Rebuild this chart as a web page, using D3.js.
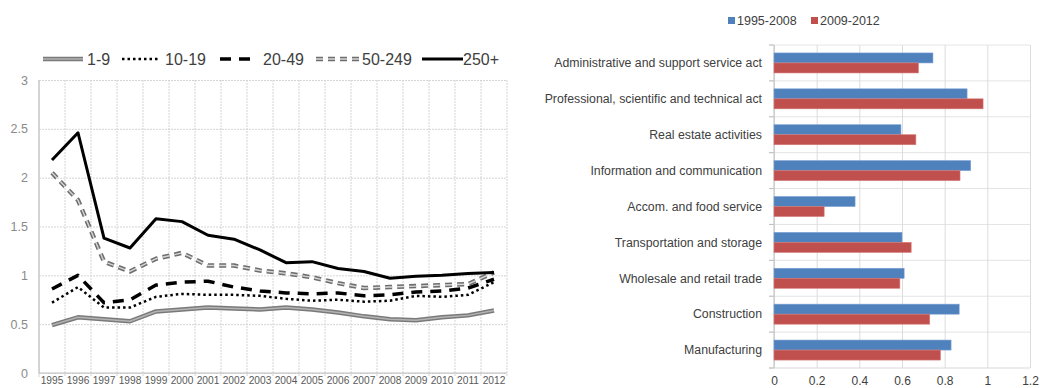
<!DOCTYPE html>
<html>
<head>
<meta charset="utf-8">
<script src="https://cdn.jsdelivr.net/npm/d3@7"></script>
<style>
    body { margin: 0; background: #fff; }
    svg { font-family: "Liberation Sans", Arial, sans-serif; }
</style>
</head>
<body>
<svg id="chart" width="1040" height="388"></svg>
<script>
// Left panel: index by firm size class
const years = ["1995", "1996", "1997", "1998", "1999", "2000", "2001", "2002", "2003",
    "2004", "2005", "2006", "2007", "2008", "2009", "2010", "2011", "2012"];
const size1to9 = [0.49, 0.57, 0.55, 0.53, 0.63, 0.65, 0.67, 0.66, 0.65, 0.67, 0.65, 0.62, 0.58, 0.55, 0.54, 0.57, 0.59, 0.64];
const size10to19 = [0.72, 0.88, 0.67, 0.67, 0.78, 0.81, 0.80, 0.80, 0.79, 0.76, 0.74, 0.75, 0.73, 0.74, 0.79, 0.78, 0.80, 0.93];
const size20to49 = [0.86, 1.00, 0.72, 0.75, 0.90, 0.93, 0.94, 0.88, 0.84, 0.82, 0.81, 0.82, 0.79, 0.80, 0.83, 0.84, 0.87, 0.96];
const size50to249 = [2.05, 1.77, 1.14, 1.04, 1.17, 1.23, 1.10, 1.10, 1.05, 1.02, 0.98, 0.92, 0.87, 0.88, 0.89, 0.90, 0.91, 1.03];
const size250plus = [2.18, 2.46, 1.38, 1.28, 1.58, 1.55, 1.41, 1.37, 1.26, 1.13, 1.14, 1.07, 1.04, 0.97, 0.99, 1.00, 1.02, 1.03];
const lineTicks = [0, 0.5, 1, 1.5, 2, 2.5, 3];

// Right panel: by sector
const sectors = ["Administrative and support service act", "Professional, scientific and technical act",
    "Real estate activities", "Information and communication", "Accom. and food service",
    "Transportation and storage", "Wholesale and retail trade", "Construction", "Manufacturing"];
const period1 = [0.745, 0.905, 0.595, 0.922, 0.38, 0.60, 0.61, 0.868, 0.83];
const period2 = [0.677, 0.98, 0.665, 0.872, 0.235, 0.643, 0.59, 0.73, 0.78];
const barTicks = [0, 0.2, 0.4, 0.6, 0.8, 1, 1.2];
const periodNames = ["1995-2008", "2009-2012"];

const svg = d3.select("#chart");

/* ---------- left: line chart ---------- */
const lp = { left: 39, right: 507, top: 80, bottom: 373 };

const xYear = d3.scaleBand()
    .domain(years)
    .range([lp.left, lp.right]);
const yVal = d3.scaleLinear()
    .domain([0, 3])
    .range([lp.bottom, lp.top]);

// horizontal grid + labels
svg.append("g")
    .attr("transform", `translate(${lp.left},0)`)
    .call(d3.axisLeft(yVal).tickValues(lineTicks).tickSize(-(lp.right - lp.left)).tickPadding(11).tickFormat(d => String(d)))
    .call(g => g.select(".domain").remove())
    .call(g => g.selectAll(".tick line")
        .attr("stroke", "#d4d4d4")
        .attr("stroke-dasharray", "2,1"))
    .call(g => g.selectAll(".tick text")
        .attr("fill", "#8a8a8a")
        .style("font-size", "12.5px"));

// vertical grid at category boundaries
const boundaries = years.map(y => xYear(y)).concat([lp.right]);
svg.append("g")
    .selectAll("line")
    .data(boundaries)
    .enter()
    .append("line")
    .attr("x1", d => d)
    .attr("x2", d => d)
    .attr("y1", lp.top)
    .attr("y2", lp.bottom + 4)
    .attr("stroke", "#d4d4d4")
    .attr("stroke-dasharray", (d, i) => i === 0 ? null : "2,1");

// axes lines
svg.append("line")
    .attr("x1", lp.left).attr("x2", lp.left)
    .attr("y1", lp.top).attr("y2", lp.bottom)
    .attr("stroke", "#bfbfbf");
svg.append("line")
    .attr("x1", lp.left).attr("x2", lp.right)
    .attr("y1", lp.bottom).attr("y2", lp.bottom)
    .attr("stroke", "#bfbfbf");

svg.append("g")
    .attr("transform", `translate(0,${lp.bottom})`)
    .call(d3.axisBottom(xYear).tickSize(0).tickPadding(4))
    .call(g => g.select(".domain").remove())
    .call(g => g.selectAll(".tick text")
        .attr("fill", "#595959")
        .style("font-size", "10.2px"));

const line = d3.line()
    .x((d, i) => xYear(years[i]) + xYear.bandwidth() / 2)
    .y(d => yVal(d));

const seriesStyles = [
    { name: "1-9", data: size1to9, strokes: [{ c: "#7a7a7a", w: 4.5 }, { c: "#b4b4b4", w: 1.5 }] },
    { name: "10-19", data: size10to19, strokes: [{ c: "#000", w: 2.5, dash: "2.5,3" }] },
    { name: "20-49", data: size20to49, strokes: [{ c: "#000", w: 3.5, dash: "11,8" }] },
    { name: "50-249", data: size50to249, strokes: [{ c: "#6e6e6e", w: 4.5, dash: "7,5" }, { c: "#d6d6d6", w: 1.4, dash: "7,5" }] },
    { name: "250+", data: size250plus, strokes: [{ c: "#000", w: 3 }] }
];

seriesStyles.forEach(s => {
    s.strokes.forEach(st => {
        svg.append("path")
            .attr("d", line(s.data))
            .attr("fill", "none")
            .attr("stroke", st.c)
            .attr("stroke-width", st.w)
            .attr("stroke-dasharray", st.dash || null)
            .attr("stroke-linejoin", "round");
    });
});

// legend
const legendPos = [
    { x0: 43, x1: 83, tx: 87 },
    { x0: 122, x1: 159, tx: 165 },
    { x0: 220, x1: 251, tx: 263 },
    { x0: 316, x1: 361, tx: 362 },
    { x0: 422, x1: 463, tx: 463 }
];
seriesStyles.forEach((s, i) => {
    const p = legendPos[i];
    s.strokes.forEach(st => {
        svg.append("line")
            .attr("x1", p.x0).attr("x2", p.x1)
            .attr("y1", 59).attr("y2", 59)
            .attr("stroke", st.c)
            .attr("stroke-width", st.w)
            .attr("stroke-dasharray", st.dash || null);
    });
    svg.append("text")
        .attr("x", p.tx)
        .attr("y", 65)
        .attr("fill", "#404040")
        .style("font-size", "16px")
        .text(s.name);
});

/* ---------- right: horizontal bar chart ---------- */
const rp = { left: 774, right: 1030, top: 45, bottom: 368 };

const xBar = d3.scaleLinear()
    .domain([0, 1.2])
    .range([rp.left, rp.right]);
const ySector = d3.scaleBand()
    .domain(sectors)
    .range([rp.top, rp.bottom]);
const yPeriod = d3.scaleBand()
    .domain(periodNames)
    .range([ySector.bandwidth() / 2 - 10, ySector.bandwidth() / 2 + 10]);

// horizontal grid at category boundaries
svg.append("g")
    .selectAll("line")
    .data(sectors.map(s => ySector(s)))
    .enter()
    .append("line")
    .attr("x1", rp.left - 5)
    .attr("x2", rp.right)
    .attr("y1", d => d)
    .attr("y2", d => d)
    .attr("stroke", "#e4e4e4");

svg.append("g")
    .attr("transform", `translate(0,${rp.bottom})`)
    .call(d3.axisBottom(xBar).tickValues(barTicks).tickSize(-(rp.bottom - rp.top)).tickPadding(8).tickFormat(d3.format("~g")))
    .call(g => g.select(".domain").remove())
    .call(g => g.selectAll(".tick line").attr("stroke", "#dcdcdc"))
    .call(g => g.selectAll(".tick text")
        .attr("fill", "#404040")
        .style("font-size", "12px"));

// left axis with tick marks between categories
svg.append("line")
    .attr("x1", rp.left).attr("x2", rp.left)
    .attr("y1", rp.top).attr("y2", rp.bottom)
    .attr("stroke", "#bfbfbf");
svg.append("line")
    .attr("x1", rp.left - 5).attr("x2", rp.right)
    .attr("y1", rp.bottom).attr("y2", rp.bottom)
    .attr("stroke", "#d9d9d9");
svg.append("g")
    .selectAll("line")
    .data(sectors.map(s => ySector(s)).concat([rp.bottom]))
    .enter()
    .append("line")
    .attr("x1", rp.left - 5).attr("x2", rp.left)
    .attr("y1", d => d).attr("y2", d => d)
    .attr("stroke", "#bfbfbf");

const barColours = ["#4f81bd", "#c0504d"];
const barBorders = ["#7aa0d4", "#d47a77"];
const barData = [period1, period2];

barData.forEach((vals, si) => {
    svg.append("g")
        .selectAll("rect")
        .data(vals)
        .enter()
        .append("rect")
        .attr("x", xBar(0))
        .attr("y", (d, i) => ySector(sectors[i]) + yPeriod(periodNames[si]))
        .attr("width", d => xBar(d) - xBar(0))
        .attr("height", yPeriod.bandwidth())
        .attr("fill", barColours[si])
        .attr("stroke", barBorders[si])
        .attr("stroke-width", 0.6);
});

svg.append("g")
    .selectAll("text")
    .data(sectors)
    .enter()
    .append("text")
    .attr("x", 762)
    .attr("y", d => ySector(d) + ySector.bandwidth() / 2)
    .attr("dy", "0.35em")
    .attr("text-anchor", "end")
    .attr("fill", "#404040")
    .style("font-size", "12.3px")
    .text(d => d);

// legend
const barLegend = [{ x: 728, tx: 737 }, { x: 811, tx: 820 }];
periodNames.forEach((name, i) => {
    svg.append("rect")
        .attr("x", barLegend[i].x)
        .attr("y", 17)
        .attr("width", 7)
        .attr("height", 7)
        .attr("fill", barColours[i]);
    svg.append("text")
        .attr("x", barLegend[i].tx)
        .attr("y", 25)
        .attr("fill", "#404040")
        .style("font-size", "12.5px")
        .text(name);
});
</script>
</body>
</html>
